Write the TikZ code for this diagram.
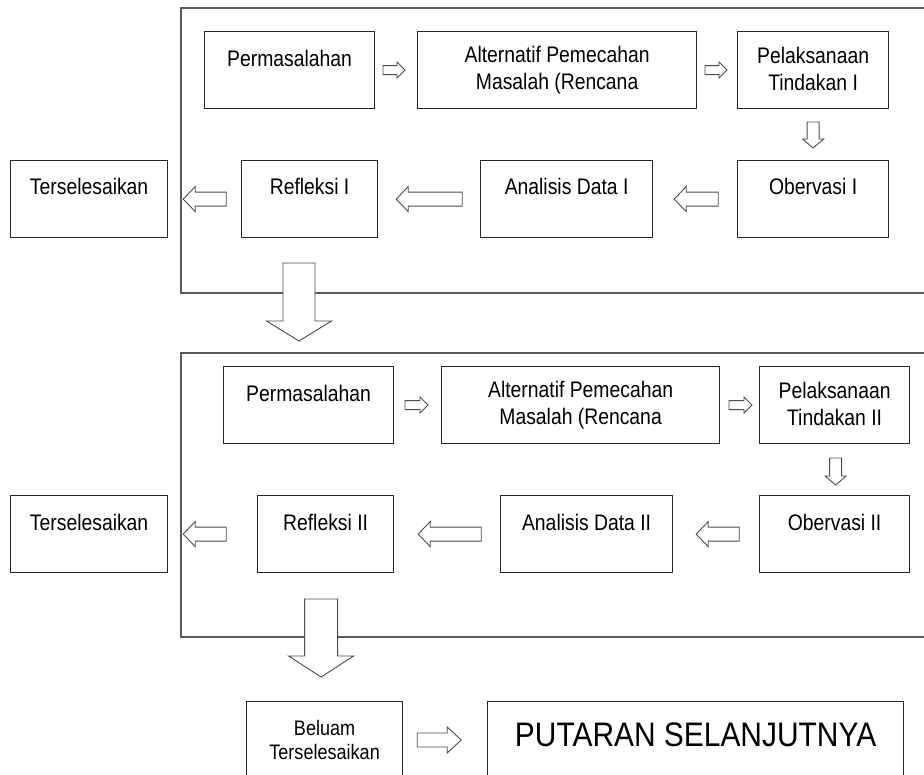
\documentclass[tikz,border=0pt]{standalone}
\usepackage{fontspec}
\setmainfont{Liberation Sans}[FakeStretch=0.86]
\newfontfamily\bigfam{Liberation Sans}[FakeStretch=0.88]
\usetikzlibrary{calc}
\newcommand\twol[2]{\begin{tabular}[t]{@{}c@{}}#1\\#2\end{tabular}}
\newcommand\blockarrow[6]{%
  \draw[barrow, shift={#1}, rotate=#2] (0,0) -- (#4,#6) -- (#4,#5) -- (#3,#5) -- (#3,-#5) -- (#4,-#5) -- (#4,-#6) -- cycle;}
\begin{document}
\begin{tikzpicture}[x=1pt,y=-1pt,
  box/.style={draw=black!85, line width=1.2pt, fill=white, inner sep=0pt, anchor=north west},
  frameline/.style={draw=black!65, line width=1.6pt},
  barrow/.style={draw=black!70, line width=0.9pt, fill=white, line join=miter},
  txt/.style={anchor=base, inner sep=0pt, font=\fontsize{22.5}{27}\selectfont, text=black},
  smalltxt/.style={anchor=base, inner sep=0pt, font=\fontsize{21}{24}\selectfont, text=black},
  bigtxt/.style={anchor=base, inner sep=0pt, font=\bigfam\fontsize{34}{40}\selectfont, text=black}]
\path[use as bounding box, clip] (0,0) rectangle (924,775);
\fill[white] (0,0) rectangle (924,775);

% frames
\draw[frameline] (940,8) -| (181,293) -- (940,293);
\draw[frameline] (940,353) -| (181,637) -- (940,637);

% ---- cycle I ----
\node[box, minimum width=170pt, minimum height=77pt] (p1) at (204,31) {};
\node[box, minimum width=279pt, minimum height=77pt] (a1) at (417,31) {};
\node[box, minimum width=151pt, minimum height=77pt] (t1) at (737,31) {};
\node[box, minimum width=151pt, minimum height=77pt] (o1) at (737,160) {};
\node[box, minimum width=172pt, minimum height=77pt] (d1) at (480,160) {};
\node[box, minimum width=136pt, minimum height=77pt] (r1) at (241,160) {};
\node[box, minimum width=157pt, minimum height=77pt] (s1) at (10,160) {};

\node[txt] at ([yshift=-36pt]p1.north) {Permasalahan};
\node[txt] at ([yshift=-32pt]a1.north) {\twol{Alternatif Pemecahan}{Masalah (Rencana}};
\node[txt] at ([yshift=-33pt]t1.north) {\twol{Pelaksanaan}{Tindakan I}};
\node[txt] at ([yshift=-35pt]o1.north) {Obervasi I};
\node[txt] at ([yshift=-35pt]d1.north) {Analisis Data I};
\node[txt] at ([yshift=-35pt]r1.north) {Refleksi I};
\node[txt] at ([yshift=-35pt]s1.north) {Terselesaikan};

\blockarrow{($(a1.west)+(-12,0)$)}{180}{22}{8}{4.5}{8}
\blockarrow{($(t1.west)+(-10,0)$)}{180}{22}{8}{4.5}{8}
\blockarrow{($(o1.north)+(0,-12)$)}{90}{26}{9}{6}{10.5}
\blockarrow{($(d1.east)+(21,0)$)}{0}{44}{12}{7}{12.5}
\blockarrow{($(r1.east)+(18,0)$)}{0}{66}{12}{7}{12.5}
\blockarrow{($(s1.east)+(15,0)$)}{0}{43}{12}{7}{12.5}

% ---- cycle II ----
\node[box, minimum width=170pt, minimum height=77pt] (p2) at (223,366) {};
\node[box, minimum width=278pt, minimum height=77pt] (a2) at (441,366) {};
\node[box, minimum width=150pt, minimum height=77pt] (t2) at (759,366) {};
\node[box, minimum width=150pt, minimum height=77pt] (o2) at (759,495) {};
\node[box, minimum width=172pt, minimum height=77pt] (d2) at (500,495) {};
\node[box, minimum width=136pt, minimum height=77pt] (r2) at (257,495) {};
\node[box, minimum width=157pt, minimum height=77pt] (s2) at (10,495) {};

\node[txt] at ([yshift=-36pt]p2.north) {Permasalahan};
\node[txt] at ([yshift=-32pt]a2.north) {\twol{Alternatif Pemecahan}{Masalah (Rencana}};
\node[txt] at ([yshift=-33pt]t2.north) {\twol{Pelaksanaan}{Tindakan II}};
\node[txt] at ([yshift=-35pt]o2.north) {Obervasi II};
\node[txt] at ([yshift=-35pt]d2.north) {Analisis Data II};
\node[txt] at ([yshift=-35pt]r2.north) {Refleksi II};
\node[txt] at ([yshift=-35pt]s2.north) {Terselesaikan};

\blockarrow{($(a2.west)+(-13,0)$)}{180}{23}{8}{4.5}{8}
\blockarrow{($(t2.west)+(-7,0)$)}{180}{23}{8}{4.5}{8}
\blockarrow{($(o2.north)+(1,-10)$)}{90}{27}{9}{6}{10.5}
\blockarrow{($(d2.east)+(23,0)$)}{0}{43}{12}{7}{12.5}
\blockarrow{($(r2.east)+(24,0)$)}{0}{63}{12}{7}{12.5}
\blockarrow{($(s2.east)+(15,0)$)}{0}{43}{12}{7}{12.5}

% ---- bottom ----
\node[box, minimum width=156pt, minimum height=110pt] (bel) at (246,701) {};
\node[box, minimum width=416pt, minimum height=110pt] (put) at (487,701) {};
\node[smalltxt] at ([yshift=-34pt]bel.north) {\twol{Beluam}{Terselesaikan}};
\node[bigtxt] at ([yshift=-45pt]put.north) {PUTARAN SELANJUTNYA};
\blockarrow{($(bel.north east)+(58,39)$)}{180}{44}{14}{7}{13}

% big arrows between cycles
\coordinate (c1) at ($(p2.north west)+(76,-25)$);
\coordinate (c2) at ($(bel.north)+(-3.5,-24)$);
\blockarrow{(c1)}{90}{78}{20}{16}{32.5}
\blockarrow{(c2)}{90}{78}{21}{16.5}{32.5}
\end{tikzpicture}
\end{document}
